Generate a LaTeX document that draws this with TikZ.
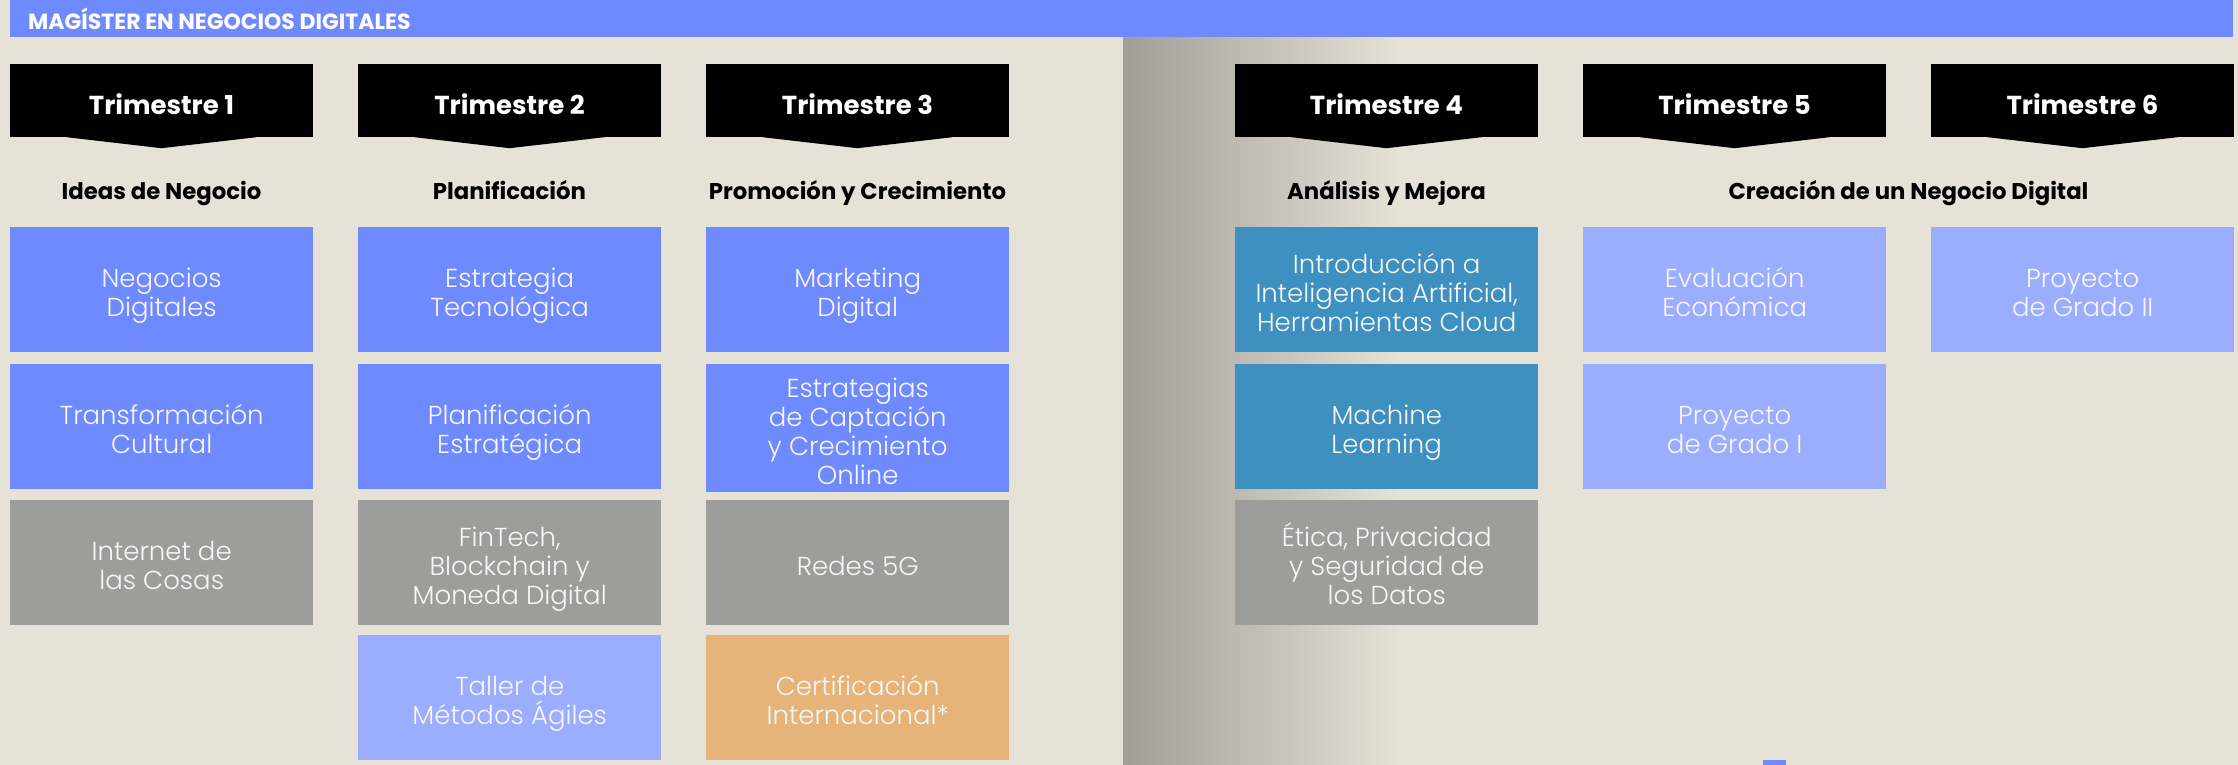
\documentclass[tikz,border=0pt]{standalone}
\usepackage{fontspec}
\setmainfont{Poppins}
\IfFontExistsTF{Poppins Light}{\newfontfamily\lightfont{Poppins Light}}{\newfontfamily\lightfont{Poppins}}
\usetikzlibrary{positioning}
\definecolor{bgbeige}{HTML}{E6E2D8}
\definecolor{shadegray}{HTML}{A29E97}
\definecolor{modblue}{HTML}{6E8AFE}
\definecolor{modlight}{HTML}{9BADFE}
\definecolor{modteal}{HTML}{3D90C0}
\definecolor{modgray}{HTML}{9D9D9B}
\definecolor{modorange}{HTML}{E6B478}
% same first-line height and last-line depth in every module box
\newcommand{\mtxt}[1]{\rule{0pt}{33pt}#1\rule[-8pt]{0pt}{8pt}}
\tikzset{
        modnode/.style = {align=center, inner sep=0pt, anchor=north west,
            minimum width=303pt, minimum height=125pt, text=white!97!black,
            font=\lightfont\fontsize{26}{29}\selectfont},
        mod_b/.style = {modnode, fill=modblue},
        mod_l/.style = {modnode, fill=modlight},
        mod_t/.style = {modnode, fill=modteal},
        mod_g/.style = {modnode, fill=modgray},
        mod_o/.style = {modnode, fill=modorange},
        tri_n/.style = {fill=black, text=white, inner sep=0pt,
            minimum width=303pt, minimum height=73pt,
            text height=30pt, text depth=1.6pt,
            font=\bfseries\fontsize{26}{30}\selectfont},
        area_n/.style = {inner sep=0pt, text=black,
            text height=20pt, text depth=4pt,
            font=\bfseries\fontsize{22.8}{26}\selectfont}
    }

\begin{document}
\begin{tikzpicture}[x=1pt,y=-1pt]
    \useasboundingbox (0,0) rectangle (2238,765);
    \fill[bgbeige] (0,0) rectangle (2238,765);
    % fold shadow between the two halves
    \shade[left color=shadegray, right color=bgbeige] (1123,37) rectangle (1400,765);
    % title bar
    \fill[modblue] (10,0) rectangle (2233,37);
    \node[anchor=west, inner sep=0pt, text=white,
        font=\bfseries\fontsize{22}{24}\selectfont] (title) at (28,19) {MAGÍSTER EN NEGOCIOS DIGITALES};

    % trimester tabs
    \foreach \n/\cx in {1/161.5, 2/509.5, 3/857.5, 4/1386.5, 5/1734.5, 6/2082.5} {
        \node[tri_n] (tri\n) at (\cx,100.5) {Trimestre \n};
        \fill (tri\n.south) ++(-95,0) -- ++(95,11) -- ++(95,-11) -- cycle;
    }

    % areas
    \node[area_n] (area1) at (161.5,191) {Ideas de Negocio};
    \node[area_n] (area2) at (509.5,191) {Planificación};
    \node[area_n] (area3) at (857.5,191) {Promoción y Crecimiento};
    \node[area_n] (area4) at (1386.5,191) {Análisis y Mejora};
    \node[area_n] (area5) at (1908.5,191) {Creación de un Negocio Digital};

    % Trimestre 1
    \node[mod_b] (m11) at (10,227) {\mtxt{Negocios\\Digitales}};
    \node[mod_b] (m12) at (10,364) {\mtxt{Transformación\\Cultural}};
    \node[mod_g] (m13) at (10,500) {\mtxt{Internet de\\las Cosas}};
    % Trimestre 2
    \node[mod_b] (m21) at (358,227) {\mtxt{Estrategia\\Tecnológica}};
    \node[mod_b] (m22) at (358,364) {\mtxt{Planificación\\Estratégica}};
    \node[mod_g] (m23) at (358,500) {\mtxt{FinTech,\\Blockchain y\\Moneda Digital}};
    \node[mod_l] (m24) at (358,635) {\mtxt{Taller de\\Métodos Ágiles}};
    % Trimestre 3
    \node[mod_b] (m31) at (706,227) {\mtxt{Marketing\\Digital}};
    \node[mod_b] (m32) at (706,364) {\mtxt{Estrategias\\de Captación\\y Crecimiento\\Online}};
    \node[mod_g] (m33) at (706,500) {\mtxt{Redes 5G}};
    \node[mod_o] (m34) at (706,635) {\mtxt{Certificación\\Internacional*}};
    % Trimestre 4
    \node[mod_t] (m41) at (1235,227) {\mtxt{Introducción a\\Inteligencia Artificial,\\Herramientas Cloud}};
    \node[mod_t] (m42) at (1235,364) {\mtxt{Machine\\Learning}};
    \node[mod_g] (m43) at (1235,500) {\mtxt{Ética, Privacidad\\y Seguridad de\\los Datos}};
    % Trimestre 5 y 6
    \node[mod_l] (m51) at (1583,227) {\mtxt{Evaluación\\Económica}};
    \node[mod_l] (m52) at (1583,364) {\mtxt{Proyecto\\de Grado I}};
    \node[mod_l] (m61) at (1931,227) {\mtxt{Proyecto\\de Grado II}};

    % legend (cut off)
    \fill[modblue] (1763,760) rectangle (1786,765);
\end{tikzpicture}
\end{document}
